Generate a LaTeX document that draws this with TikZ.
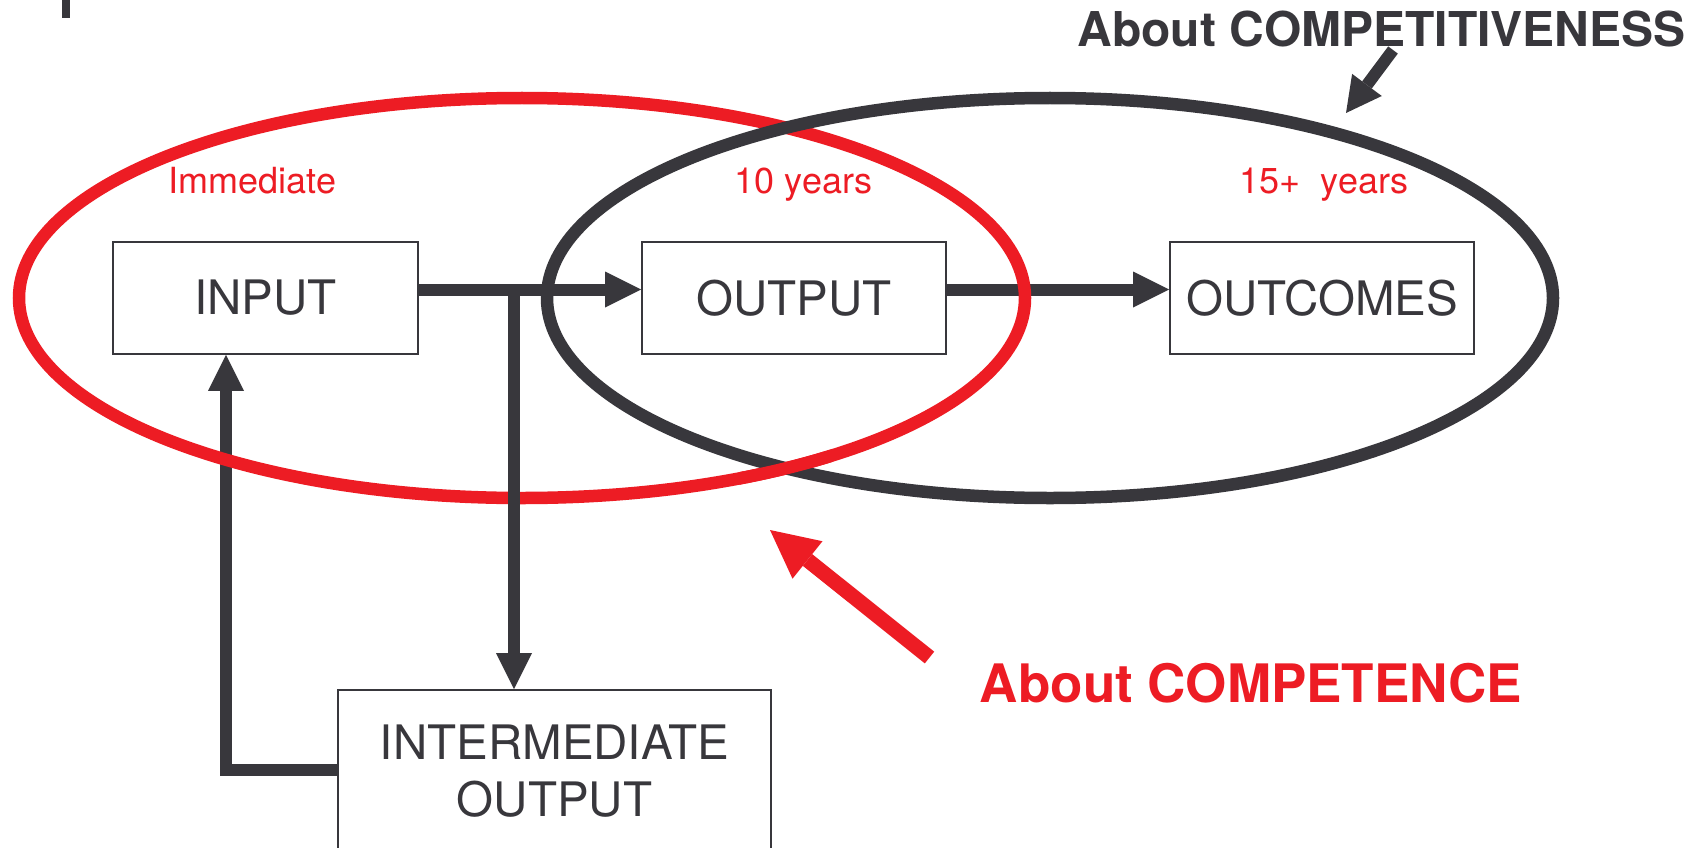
\documentclass[tikz,border=0pt]{standalone}
\usepackage{fontspec}
\setmainfont{TeX Gyre Heros}
\usetikzlibrary{arrows.meta}
\definecolor{ink}{RGB}{56,55,60}
\definecolor{signal}{RGB}{237,28,36}

\begin{document}
\begin{tikzpicture}[x=1pt,y=-1pt,
  box/.style={draw=ink, line width=1.6pt, text=ink, inner sep=0pt,
    font=\fontsize{47.5}{57}\selectfont},
  flow/.style={draw=ink, line width=12pt,
    -{Triangle[length=36pt,width=36pt,line width=0pt]}},
  ring/.style={line width=12.5pt},
  yearlabel/.style={text=signal, inner sep=0pt, anchor=base,
    font=\fontsize{36}{43}\selectfont},
  headline/.style={inner sep=0pt, anchor=base, font=\bfseries}
]
\useasboundingbox (0,0) rectangle (1707,848);
\clip (0,0) rectangle (1707,848);
\fill[white] (0,0) rectangle (1707,848);

% small mark in the upper left corner
\fill[ink] (62,0) rectangle (70,18);

% boxes
\node[box, minimum width=305pt, minimum height=112pt] (input) at (265.5,298) {INPUT};
\node[box, minimum width=304pt, minimum height=112pt] (output) at (794,298) {OUTPUT};
\node[box, minimum width=304pt, minimum height=112pt] (outcomes) at (1322,298) {OUTCOMES};
\node[box, minimum width=433pt, minimum height=162pt, align=center] (inter) at (554.5,771)
  {INTERMEDIATE\\OUTPUT};

% connectors
\coordinate (split) at (514,289.5);
\draw[flow] ([yshift=8.5pt]input.east) -- ([yshift=8.5pt]output.west);
\draw[flow] ([yshift=1.5pt]inter.west) -| ([xshift=-39.5pt]input.south);
\draw[flow] ([yshift=8.5pt]output.east) -- ([yshift=8.5pt]outcomes.west);

% the two rings, linked: the dark one passes over the red one at the top,
% under it at the bottom
\draw[signal, ring] (522,298) ellipse [x radius=503pt, y radius=200pt];
\draw[ink, ring] (1050,298) ellipse [x radius=503pt, y radius=200pt];
\begin{scope}
  \clip (740,440) rectangle (832,500);
  \draw[signal, ring] (522,298) ellipse [x radius=503pt, y radius=200pt];
\end{scope}

% the branch down to the intermediate output runs over the red ring
\draw[flow] (split) -- (split |- inter.north);

% time labels
\node[yearlabel] (immediate) at (252.5,193.3) {Immediate};
\node[yearlabel] (ten) at (803.5,193.3) {10 years};
\node[yearlabel] (fifteen) at (1324,193.3) {15+\ \ years};

% headlines with their pointers
\node[headline, text=ink, font=\bfseries\fontsize{48}{58}\selectfont] (competitiveness)
  at (1381.5,46.8) {About COMPETITIVENESS};
\node[headline, text=signal, font=\bfseries\fontsize{53}{64}\selectfont] (competence)
  at (1251,702) {About COMPETENCE};

\coordinate (cvTail) at (1393,50);
\coordinate (cvTip) at (1346,113);
\draw[ink, line width=12pt, -{Triangle[length=35pt,width=37pt,line width=0pt]}] (cvTail) -- (cvTip);

\coordinate (ceTail) at (929.5,657.5);
\coordinate (ceTip) at (770,530);
\draw[signal, line width=15pt, -{Triangle[length=48pt,width=48pt,line width=0pt]}] (ceTail) -- (ceTip);
\end{tikzpicture}
\end{document}
